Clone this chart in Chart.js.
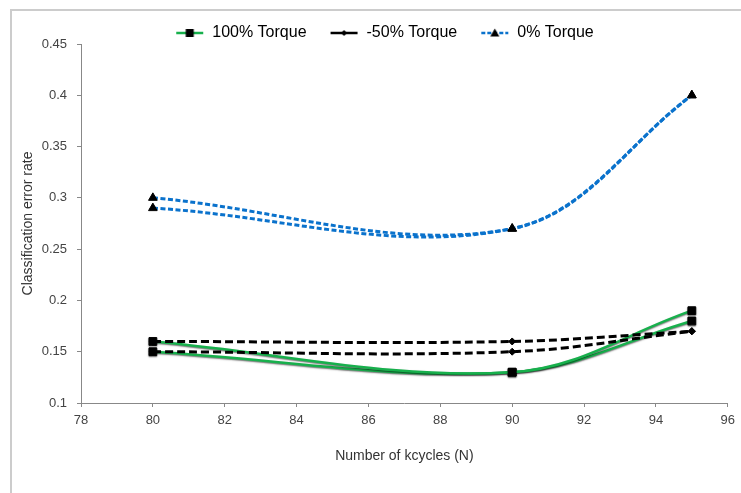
<!DOCTYPE html>
<html>
<head>
<meta charset="utf-8">
<script src="https://cdn.jsdelivr.net/npm/chart.js@4.4.1/dist/chart.umd.min.js"></script>
<style>
  html, body { margin: 0; padding: 0; background: #ffffff; }
  #wrap { position: relative; width: 741px; height: 493px; }
  #frame { position: absolute; left: 10px; top: 9px; width: 740px; height: 500px;
           border-left: 2px solid #cccccc; border-top: 2px solid #cccccc; box-sizing: border-box; }
  canvas { position: absolute; left: 0; top: 0; }
</style>
</head>
<body>
<div id="wrap">
  <div id="frame"></div>
  <canvas id="chart" width="741" height="493"></canvas>
</div>
<script>
// Number of kcycles at which each classifier run was evaluated
const kcycles = [80, 90, 95];

// Classification error rates, two runs per torque level
const torque100RunA = [0.16, 0.13, 0.19];
const torque100RunB = [0.15, 0.13, 0.18];
const torqueNeg50RunA = [0.16, 0.16, 0.17];
const torqueNeg50RunB = [0.15, 0.15, 0.17];
const torque0RunA = [0.30, 0.27, 0.40];
const torque0RunB = [0.29, 0.27, 0.40];

const seriesNames = ['100% Torque', '-50% Torque', '0% Torque'];

const xTicks = [78, 80, 82, 84, 86, 88, 90, 92, 94, 96];
const yTicks = [0.1, 0.15, 0.2, 0.25, 0.3, 0.35, 0.4, 0.45];

const GREEN = '#17b04c';
const BLACK = '#000000';
const BLUE = '#0a72cc';

function pts(ys) { return kcycles.map((x, i) => ({ x: x, y: ys[i] })); }

// Legend swatch: a short line segment with the series marker in the middle
// (left part of the canvas is left blank to space the entries apart)
function swatch(color, dash, width, marker) {
  const c = document.createElement('canvas');
  c.width = 38; c.height = 14;
  const g = c.getContext('2d');
  g.translate(10, 0);
  g.strokeStyle = color; g.lineWidth = width; g.setLineDash(dash);
  g.beginPath(); g.moveTo(0, 7); g.lineTo(27, 7); g.stroke();
  g.setLineDash([]); g.fillStyle = '#000';
  if (marker === 'rect') { g.fillRect(9.5, 3, 8, 8); }
  if (marker === 'rectRot') { g.beginPath(); g.moveTo(13.5, 4); g.lineTo(16.5, 7); g.lineTo(13.5, 10); g.lineTo(10.5, 7); g.closePath(); g.fill(); }
  if (marker === 'triangle') { g.beginPath(); g.moveTo(13.5, 2.5); g.lineTo(18, 10.5); g.lineTo(9, 10.5); g.closePath(); g.fill(); }
  return c;
}
const swatches = [
  swatch(GREEN, [], 2.5, 'rect'),
  swatch(BLACK, [], 2.5, 'rectRot'),
  swatch(BLUE, [4, 2], 2.5, 'triangle')
];

function ds(label, ys, color, dash, width, marker, radius, group) {
  return {
    label: label, data: pts(ys), borderColor: color, borderWidth: width, borderDash: dash,
    pointStyle: marker, pointRadius: radius, pointHoverRadius: radius,
    pointBackgroundColor: '#000', pointBorderColor: '#000', pointBorderWidth: 1,
    tension: 0.36, fill: false, group: group
  };
}

const datasets = [
  ds(seriesNames[2], torque0RunA, BLUE, [5, 2.5], 3, 'triangle', 5, 2),
  ds(seriesNames[2], torque0RunB, BLUE, [5, 2.5], 3, 'triangle', 5, 2),
  ds(seriesNames[1], torqueNeg50RunA, BLACK, [8, 4], 3, 'rectRot', 3.5, 1),
  ds(seriesNames[1], torqueNeg50RunB, BLACK, [8, 4], 3, 'rectRot', 3.5, 1),
  ds(seriesNames[0], torque100RunA, GREEN, [], 2.5, 'rect', 5.5, 0),
  ds(seriesNames[0], torque100RunB, GREEN, [], 2.5, 'rect', 5.5, 0)
];

// Soft dark edge under the green curves
const shadowPlugin = {
  id: 'greenShadow',
  beforeDatasetDraw(chart, args) {
    const d = chart.data.datasets[args.index];
    if (d.group === 0) {
      const ctx = chart.ctx; ctx.save();
      ctx.shadowColor = 'rgba(0,0,0,0.55)'; ctx.shadowBlur = 1.5; ctx.shadowOffsetY = 1;
    }
  },
  afterDatasetDraw(chart, args) {
    const d = chart.data.datasets[args.index];
    if (d.group === 0) chart.ctx.restore();
  }
};

// Nudge the legend row a little lower/right without changing the plot area
const legendNudge = {
  id: 'legendNudge',
  afterLayout(chart) {
    const lg = chart.legend;
    if (!lg) return;
    lg.top += 7; lg.bottom += 7;
    lg.left += 6; lg.right += 6;
  }
};

Chart.defaults.font.family = '"Liberation Sans", Arial, sans-serif';

new Chart(document.getElementById('chart'), {
  type: 'line',
  data: { datasets: datasets },
  plugins: [shadowPlugin, legendNudge],
  options: {
    responsive: false,
    animation: false,
    events: [],
    layout: { padding: { left: 20, right: 13, top: 4, bottom: 28 } },
    plugins: {
      tooltip: { enabled: false },
      legend: {
        position: 'top',
        align: 'center',
        labels: {
          usePointStyle: true,
          pointStyleWidth: 38,
          boxHeight: 14,
          padding: 14,
          color: '#000',
          font: { size: 16 },
          generateLabels(chart) {
            return [0, 1, 2].map(i => ({
              text: seriesNames[i], pointStyle: swatches[i], fontColor: '#000',
              lineWidth: 0, strokeStyle: 'transparent', fillStyle: 'transparent', hidden: false, datasetIndex: i
            }));
          }
        }
      }
    },
    scales: {
      x: {
        type: 'linear', min: 78, max: 96,
        afterBuildTicks(s) { s.ticks = xTicks.map(v => ({ value: v })); },
        grid: { display: true, drawOnChartArea: false, drawTicks: true, tickLength: 4, color: '#888' },
        border: { color: '#888', width: 1 },
        ticks: { color: '#444', font: { size: 13 }, padding: 6 },
        title: { display: true, text: 'Number of kcycles (N)', color: '#333', font: { size: 14 }, padding: { top: 10, bottom: 0 } },
        afterFit(s) { s.height = 62; }
      },
      y: {
        type: 'linear', min: 0.1, max: 0.45,
        afterBuildTicks(s) { s.ticks = yTicks.map(v => ({ value: v })); },
        grid: { display: true, drawOnChartArea: false, drawTicks: true, tickLength: 4, color: '#888' },
        border: { color: '#888', width: 1 },
        ticks: { color: '#444', font: { size: 13 }, padding: 10, callback: v => String(Math.round(v * 100) / 100) },
        title: { display: true, text: 'Classification error rate', color: '#333', font: { size: 14 }, padding: { top: 0, bottom: 6 } },
        afterFit(s) { s.width = 61; }
      }
    }
  }
});
</script>
</body>
</html>
